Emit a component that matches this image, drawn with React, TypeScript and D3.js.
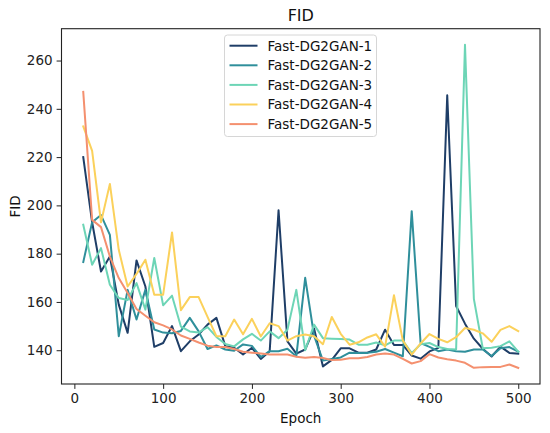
import React, { useEffect, useRef } from "react";
import * as d3 from "d3";

const epochs = d3.range(10, 501, 10);

const seriesNames = ["Fast-DG2GAN-1", "Fast-DG2GAN-2", "Fast-DG2GAN-3", "Fast-DG2GAN-4", "Fast-DG2GAN-5"];
const seriesColors = ["#1f3e67", "#2f8f9b", "#6dd5b6", "#fbd15b", "#f4906f"];

const fid1 = [
	220, 193, 172.6, 178.8, 158.9, 147.2, 177.2, 166.4, 141.4, 143, 150, 139.6, 143.7, 146.5, 150.6, 153.4, 141.7, 141,
	138.2, 141, 136.4, 139.6, 198, 143.7, 138.6, 140.3, 149, 133.3, 136, 140.8, 140.8, 139, 139, 140.3, 148.5, 142.2,
	142.2, 137.8, 136.5, 139.5, 141, 245.6, 158.3, 151, 144.8, 140.6, 137.4, 141.5, 138.9, 138.6,
];
const fid2 = [
	176.5, 193, 196, 187.8, 145.8, 165, 152.7, 165, 148.6, 147.3, 147, 148, 153.4, 147.8, 140.5, 142, 140.3, 139.8,
	142.4, 141.8, 137.2, 139.6, 139.6, 140.6, 137.5, 170, 146, 135.7, 136.4, 137, 139, 138.9, 138.9, 139.4, 140.5, 139,
	137.5, 197.6, 143, 141.4, 139.6, 140.3, 139.6, 139.4, 140.3, 140.3, 137.6, 140.8, 141.3, 139.4,
];
const fid3 = [
	192, 175.4, 182.3, 167.1, 161.6, 160.8, 167.8, 156.8, 178.2, 158.6, 162.6, 149.8, 147.8, 147.3, 149.6, 145.5, 142.6,
	141.6, 144.5, 146.8, 144, 147.8, 145, 148.5, 165, 140, 150.6, 145, 144.8, 144.6, 144.4, 142.3, 142.3, 143.2, 142,
	144, 144, 138.8, 142.5, 143, 141.3, 140.5, 140.3, 266.5, 161.3, 140.8, 141, 141.7, 143.7, 139.4,
];
const fid4 = [
	232.7, 222.6, 193, 208.9, 181.6, 166.4, 171.6, 177.5, 163, 163, 188.8, 156.6, 162, 162, 153.8, 145.8, 145.8, 152.7,
	146.6, 153, 145.7, 151.2, 150, 144, 145.8, 146.5, 145.8, 142.5, 153.8, 146.8, 142.3, 143.3, 145.3, 146.6, 141.5,
	162.8, 144, 138.2, 142.8, 146.7, 144.7, 143.3, 145.4, 149.2, 148.5, 147, 143.5, 148.4, 150, 147.9,
];
const fid5 = [
	247, 194, 191, 178.8, 169.9, 163.7, 157.1, 154.3, 151.6, 150.3, 148.6, 146.1, 144.7, 143.2, 141.9, 141.3, 141.3,
	140.5, 139.4, 139, 138.6, 138.2, 138.2, 138.2, 137.3, 136.9, 137.2, 136.8, 135.9, 136.1, 136.7, 136.7, 137.2, 138.2,
	138.6, 138.2, 136.4, 134.5, 135.5, 138.4, 137, 136.3, 135.7, 134.8, 132.7, 133, 133.1, 133.1, 134.1, 132.7,
];

const xTicks = [0, 100, 200, 300, 400, 500];
const yTicks = [140, 160, 180, 200, 220, 240, 260];

const W = 550;
const H = 433;
const FONT = "DejaVu Sans, sans-serif";
const FS = 13.5;

const App: React.FC = () => {
	const ref = useRef<SVGSVGElement>(null);

	useEffect(() => {
		const allSeries = [fid1, fid2, fid3, fid4, fid5];
		const margin = { top: 28.7, right: 10, bottom: 49, left: 61.5 };
		const innerW = W - margin.left - margin.right;
		const innerH = H - margin.top - margin.bottom;

		const svg = d3.select(ref.current);
		svg.selectAll("*").remove();

		// matplotlib-style 5% padding
		const [xMin, xMax] = d3.extent(epochs) as [number, number];
		const xPad = (xMax - xMin) * 0.05;
		const yMin = d3.min(allSeries, (s) => d3.min(s)) || 0;
		const yMax = d3.max(allSeries, (s) => d3.max(s)) || 0;
		const yPad = (yMax - yMin) * 0.05;

		const xScale = d3.scaleLinear().domain([xMin - xPad, xMax + xPad]).range([0, innerW]);
		const yScale = d3.scaleLinear().domain([yMin - yPad, yMax + yPad]).range([innerH, 0]);

		const g = svg.append("g").attr("transform", `translate(${margin.left},${margin.top})`);

		const line = d3
			.line<number>()
			.x((_, i) => xScale(epochs[i]))
			.y((d) => yScale(d));

		allSeries.forEach((s, i) => {
			g.append("path")
				.datum(s)
				.attr("fill", "none")
				.attr("stroke", seriesColors[i])
				.attr("stroke-width", 2)
				.attr("stroke-linejoin", "round")
				.attr("stroke-linecap", "square")
				.attr("d", line);
		});

		// axes
		const xAxis = g
			.append("g")
			.attr("transform", `translate(0,${innerH})`)
			.call(d3.axisBottom(xScale).tickValues(xTicks).tickSize(4.9).tickPadding(5).tickSizeOuter(0));
		const yAxis = g.append("g").call(d3.axisLeft(yScale).tickValues(yTicks).tickSize(4.9).tickPadding(4).tickSizeOuter(0));

		[xAxis, yAxis].forEach((ax) => {
			ax.select(".domain").remove();
			ax.selectAll("line").attr("stroke", "#222").attr("stroke-width", 1);
			ax.selectAll("text").attr("font-family", FONT).attr("font-size", FS).attr("fill", "#222");
		});

		// frame
		g.append("rect")
			.attr("width", innerW)
			.attr("height", innerH)
			.attr("fill", "none")
			.attr("stroke", "#222")
			.attr("stroke-width", 1.1);

		// title & labels
		svg.append("text")
			.attr("x", margin.left + innerW / 2)
			.attr("y", 20.5)
			.attr("text-anchor", "middle")
			.attr("font-family", FONT)
			.attr("font-size", 16)
			.attr("fill", "#111")
			.text("FID");

		svg.append("text")
			.attr("x", margin.left + innerW / 2)
			.attr("y", 423)
			.attr("text-anchor", "middle")
			.attr("font-family", FONT)
			.attr("font-size", FS)
			.attr("fill", "#111")
			.text("Epoch");

		svg.append("text")
			.attr("transform", `translate(19.5,${margin.top + innerH / 2}) rotate(-90)`)
			.attr("text-anchor", "middle")
			.attr("font-family", FONT)
			.attr("font-size", FS)
			.attr("fill", "#111")
			.text("FID");

		// legend
		const legend = svg.append("g").attr("transform", "translate(224.5,35)");
		legend
			.append("rect")
			.attr("width", 152)
			.attr("height", 101.5)
			.attr("rx", 3)
			.attr("fill", "rgba(255,255,255,0.8)")
			.attr("stroke", "#d6d6d6")
			.attr("stroke-width", 1);

		seriesNames.forEach((name, i) => {
			const y = 10.7 + i * 19.6;
			legend
				.append("line")
				.attr("x1", 5)
				.attr("x2", 33)
				.attr("y1", y)
				.attr("y2", y)
				.attr("stroke", seriesColors[i])
				.attr("stroke-width", 2);
			legend
				.append("text")
				.attr("x", 43)
				.attr("y", y + 4.8)
				.attr("font-family", FONT)
				.attr("font-size", FS)
				.attr("fill", "#111")
				.text(name);
		});
	}, []);

	return (
		<div style={{ position: "fixed", left: 0, top: 0, background: "#fff" }}>
			<svg ref={ref} width={W} height={H} />
		</div>
	);
};

export default App;
